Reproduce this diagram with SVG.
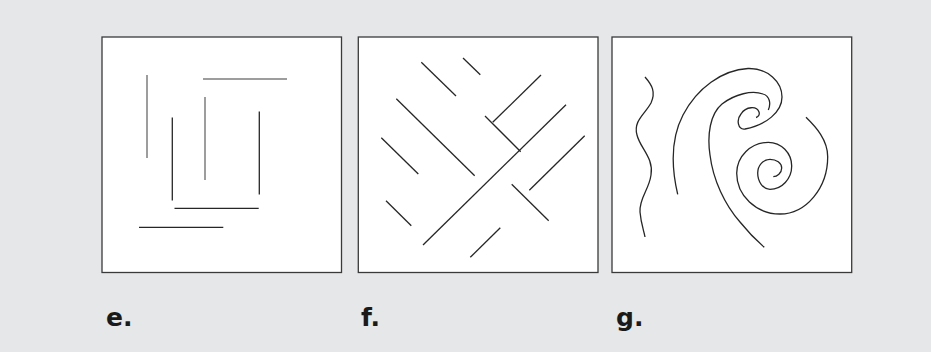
<svg xmlns="http://www.w3.org/2000/svg" width="931" height="352" viewBox="0 0 931 352">
<style>
.bg{fill:#e6e7e9}
.panel{fill:#fff;stroke:#3a3a3a;stroke-width:1.3}
.ln{stroke:#262626;stroke-width:1.3;fill:none;stroke-linecap:butt}
.gr{stroke:#7d7d7d;stroke-width:1.5;fill:none}
.lbl{font-family:"DejaVu Sans",sans-serif;font-weight:bold;font-size:25px;fill:#1a1a1a}
</style>
<rect class="bg" x="0" y="0" width="931" height="352"/>
<g id="panel-e">
<rect class="panel" x="102" y="37" width="239.5" height="235.5"/>
<line class="gr" x1="147" y1="75" x2="147" y2="158"/>
<line class="gr" x1="203" y1="79" x2="287" y2="79"/>
<line class="gr" x1="205" y1="97" x2="205" y2="180"/>
<line class="ln" x1="172.3" y1="117.5" x2="172.3" y2="200.5"/>
<line class="ln" x1="259.3" y1="111.5" x2="259.3" y2="194.5"/>
<line class="ln" x1="174.5" y1="208.3" x2="258.7" y2="208.3"/>
<line class="ln" x1="139" y1="227.3" x2="223.3" y2="227.3"/>
</g>
<g id="panel-f">
<rect class="panel" x="358.3" y="37" width="239.7" height="235.5"/>
<line class="ln" x1="421.3" y1="62.3" x2="456" y2="96"/>
<line class="ln" x1="463" y1="58" x2="480.3" y2="74.7"/>
<line class="ln" x1="396.3" y1="98.7" x2="474.7" y2="175.7"/>
<line class="ln" x1="381.3" y1="137.7" x2="418.3" y2="174"/>
<line class="ln" x1="386" y1="200.7" x2="411.3" y2="225.7"/>
<line class="ln" x1="423" y1="245" x2="566" y2="104.7"/>
<line class="ln" x1="492.7" y1="122.3" x2="541" y2="75"/>
<line class="ln" x1="485" y1="116" x2="520.7" y2="151.7"/>
<line class="ln" x1="529.3" y1="190.3" x2="584.7" y2="135.7"/>
<line class="ln" x1="511.7" y1="184.3" x2="548.7" y2="220.7"/>
<line class="ln" x1="470.3" y1="257.3" x2="500.3" y2="227.7"/>
</g>
<g id="panel-g">
<rect class="panel" x="612" y="37" width="239.7" height="235.5"/>
<path class="ln" d="M645,77 C652,85 656,92 651,103 C645,114 633,121 637,135 C640,148 654,158 651,175 C649,190 639,198 640,212 C641,224 644,231 645,237"/>
<path class="ln" d="M677.7,194.3 C672,170 670,140 683,115 C697,88 722,70 748,68.5 C768,68 782,82 782,97 C782,112 766,125 745,129 C738,130 736,120 741,114 C746,106 757,106 759,112 C760,115 758,117 756,117.5"/>
<path class="ln" d="M768.3,110 C771,104 770,96 763,94 C752,90 735,94 722,104 C710,114 707,135 710,155 C713,180 725,205 740,222 C748,232 757,241 764.3,247.3"/>
<path class="ln" d="M806,117.3 C816,127 827.7,140 827.7,156.7 C827.7,188 806,214 780,214 C756.2,214 736.7,195.7 736.7,173.3 C736.7,156.3 750.9,142.3 768.3,142.3 C781.2,142.3 791.7,153 791.7,166 C791.7,178.8 781.9,189.3 770,189.3 C763.2,189.3 757.7,182 757.7,173 C757.7,165.5 763.2,159.3 770,159.3 C776.4,159.3 781.7,163 781.7,168 C781.7,173 777,176.7 773.3,176.7"/>
</g>
<g id="labels">
<text class="lbl" x="106" y="326">e.</text>
<text class="lbl" x="361" y="326">f.</text>
<text class="lbl" x="616" y="326">g.</text>
</g>
</svg>
